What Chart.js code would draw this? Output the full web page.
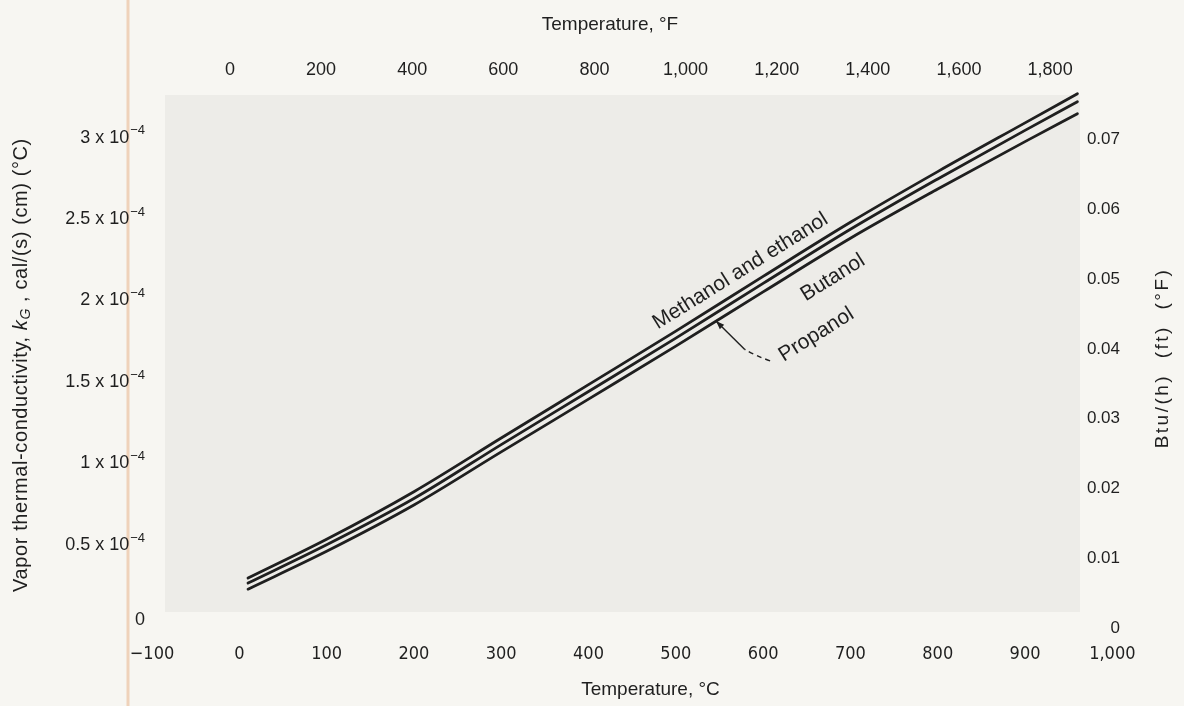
<!DOCTYPE html>
<html>
<head>
<meta charset="utf-8">
<title>Vapor thermal conductivity of alcohols</title>
<script src="https://cdn.jsdelivr.net/npm/chart.js@4/dist/chart.umd.min.js"></script>
<style>
  html, body { margin: 0; padding: 0; background: #f7f6f2; }
</style>
</head>
<body>
<canvas id="kg-chart" width="1184" height="706"></canvas>
<script>
// temperatures along the curves, deg C
var tempC = [10, 100, 200, 300, 400, 500, 600, 700, 800, 900, 960];
// k_G, in units of 1e-4 cal/(s)(cm)(deg C)
var methanolEthanol = [0.297, 0.535, 0.827, 1.156, 1.484, 1.812, 2.148, 2.480, 2.791, 3.090, 3.269];
var propanol        = [0.266, 0.501, 0.785, 1.116, 1.442, 1.769, 2.105, 2.437, 2.746, 3.044, 3.220];
var butanol         = [0.229, 0.461, 0.745, 1.071, 1.395, 1.720, 2.053, 2.382, 2.684, 2.975, 3.146];

// tick values
var ticksC = [-100, 0, 100, 200, 300, 400, 500, 600, 700, 800, 900, 1000];
var ticksF = [0, 200, 400, 600, 800, 1000, 1200, 1400, 1600, 1800];
var ticksKg = [0, 0.5, 1, 1.5, 2, 2.5, 3];
var ticksBtu = [0, 0.01, 0.02, 0.03, 0.04, 0.05, 0.06, 0.07];

// curve names written on the plot (t in deg C, k in 1e-4 units)
var curveLabels = [
  { text: 'Methanol and ethanol', t: 574, k: 2.18 },
  { text: 'Butanol', t: 680, k: 2.14 },
  { text: 'Propanol', t: 661, k: 1.79 }
];

var ink = '#1f1f1f';
var fontMain = "'Liberation Sans', Arial, sans-serif";
var fontNarrow = "'Liberation Sans Narrow', 'DejaVu Sans Condensed', 'Liberation Sans', sans-serif";

function pts(ys) {
  return tempC.map(function (t, i) { return { x: t, y: ys[i] }; });
}

function fixTicks(list) {
  return function (axis) {
    axis.ticks = list.map(function (v) { return { value: v }; });
  };
}

function withComma(v) {
  return v >= 1000 ? Math.floor(v / 1000) + ',' + String(v % 1000).padStart(3, '0') : String(v);
}

function curve(label, ys) {
  return {
    label: label,
    data: pts(ys),
    borderColor: ink,
    borderWidth: 2.8,
    borderCapStyle: 'round',
    pointRadius: 0,
    fill: false,
    cubicInterpolationMode: 'monotone'
  };
}

// paper tone, the grey printed panel and the page edge
var paperPlugin = {
  id: 'paper',
  beforeDraw: function (chart) {
    var ctx = chart.ctx;
    ctx.save();
    ctx.fillStyle = '#f7f6f2';
    ctx.fillRect(0, 0, chart.width, chart.height);
    ctx.fillStyle = '#edece8';
    ctx.fillRect(165, 95, 915, 517);
    ctx.strokeStyle = '#efd2ba';
    ctx.lineWidth = 3;
    ctx.beginPath();
    ctx.moveTo(128, 0);
    ctx.lineTo(128, chart.height);
    ctx.stroke();
    ctx.restore();
  }
};

function drawVertical(ctx, cx, cy, parts, spacing) {
  ctx.save();
  ctx.translate(cx, cy);
  ctx.rotate(-Math.PI / 2);
  ctx.textBaseline = 'middle';
  ctx.textAlign = 'left';
  ctx.letterSpacing = (spacing || 0) + 'px';
  var total = 0;
  parts.forEach(function (p) { ctx.font = p.f; total += ctx.measureText(p.s).width; });
  var x = -total / 2;
  parts.forEach(function (p) {
    ctx.font = p.f;
    ctx.fillText(p.s, x, p.dy || 0);
    x += ctx.measureText(p.s).width;
  });
  ctx.restore();
}

var notesPlugin = {
  id: 'notes',
  afterDatasetsDraw: function (chart) {
    var ctx = chart.ctx, sx = chart.scales.x, sy = chart.scales.y;
    ctx.save();
    ctx.fillStyle = ink;
    ctx.strokeStyle = ink;

    curveLabels.forEach(function (l) {
      ctx.save();
      ctx.translate(sx.getPixelForValue(l.t), sy.getPixelForValue(l.k));
      ctx.rotate(-32 * Math.PI / 180);
      ctx.font = '21px ' + fontMain;
      ctx.textAlign = 'center';
      ctx.textBaseline = 'middle';
      ctx.fillText(l.text, 0, 0);
      ctx.restore();
    });

    // dashed leader from "Propanol" to its curve
    var p0 = [sx.getPixelForValue(608), sy.getPixelForValue(1.63)];
    var p1 = [sx.getPixelForValue(579), sy.getPixelForValue(1.70)];
    var tip = [sx.getPixelForValue(546), sy.getPixelForValue(1.874)];
    ctx.lineWidth = 1.4;
    ctx.setLineDash([5, 4]);
    ctx.beginPath();
    ctx.moveTo(p0[0], p0[1]);
    ctx.quadraticCurveTo(p1[0] + 10, p1[1] + 6, p1[0], p1[1]);
    ctx.stroke();
    ctx.setLineDash([]);
    ctx.beginPath();
    ctx.moveTo(p1[0], p1[1]);
    ctx.lineTo(tip[0], tip[1]);
    ctx.stroke();
    var ang = Math.atan2(tip[1] - p1[1], tip[0] - p1[0]);
    ctx.beginPath();
    ctx.moveTo(tip[0], tip[1]);
    ctx.lineTo(tip[0] - 9 * Math.cos(ang - 0.35), tip[1] - 9 * Math.sin(ang - 0.35));
    ctx.lineTo(tip[0] - 9 * Math.cos(ang + 0.35), tip[1] - 9 * Math.sin(ang + 0.35));
    ctx.closePath();
    ctx.fill();

    // left tick labels with a real superscript exponent
    ctx.textBaseline = 'middle';
    ticksKg.forEach(function (v) {
      var y = sy.getPixelForValue(v) - (v === 0 ? 6 : 0);
      var right = sy.right - 7;
      if (v === 0) {
        ctx.font = '18px ' + fontMain;
        ctx.textAlign = 'right';
        ctx.fillText('0', right, y);
        return;
      }
      ctx.font = '13px ' + fontMain;
      var ew = ctx.measureText('\u22124').width;
      ctx.textAlign = 'right';
      ctx.fillText('\u22124', right, y - 7);
      ctx.font = '18px ' + fontMain;
      ctx.fillText(v + ' x 10', right - ew - 1, y);
    });

    // titles drawn by hand: top one sits left of centre, side ones read upward
    ctx.font = '19px ' + fontMain;
    ctx.textAlign = 'center';
    ctx.fillText('Temperature, \u00b0F', 610, 25);
    drawVertical(ctx, 21, 365, [
      { s: 'Vapor thermal-conductivity, ', f: '20px ' + fontMain },
      { s: 'k', f: 'italic 20px ' + fontMain },
      { s: 'G', f: 'italic 14px ' + fontMain, dy: 5 },
      { s: ' , cal/(s) (cm) (\u00b0C)', f: '20px ' + fontMain }
    ], 0.6);
    drawVertical(ctx, 1163, 358, [
      { s: 'Btu/(h)  (ft)  (\u00b0F)', f: '19px ' + fontMain }
    ], 2.5);
    ctx.restore();
  }
};

new Chart(document.getElementById('kg-chart'), {
  type: 'line',
  data: {
    datasets: [
      curve('Methanol and ethanol', methanolEthanol),
      curve('Propanol', propanol),
      curve('Butanol', butanol)
    ]
  },
  options: {
    responsive: false,
    animation: false,
    layout: { padding: 0 },
    plugins: { legend: { display: false }, tooltip: { enabled: false } },
    scales: {
      x: {
        type: 'linear', position: 'bottom', min: -100, max: 1042,
        afterBuildTicks: fixTicks(ticksC),
        afterFit: function (s) { s.height = 74; },
        grid: { display: false, drawTicks: false }, border: { display: false },
        ticks: {
          color: ink, padding: 12, maxRotation: 0, autoSkip: false,
          font: { family: fontNarrow, size: 18 },
          callback: function (v) { return v < 0 ? '\u2212' + (-v) : withComma(v); }
        },
        title: {
          display: true, text: 'Temperature, \u00b0C', color: ink,
          font: { family: fontMain, size: 19 }, padding: { top: 0, bottom: 5 }
        }
      },
      x2: {
        type: 'linear', position: 'top', min: -171, max: 2017,
        afterBuildTicks: fixTicks(ticksF),
        afterFit: function (s) { s.height = 88; },
        grid: { display: false, drawTicks: false }, border: { display: false },
        ticks: {
          color: ink, padding: 7, maxRotation: 0, autoSkip: false,
          font: { family: fontMain, size: 18 },
          callback: function (v) { return withComma(v); }
        }
      },
      y: {
        type: 'linear', position: 'left', min: -0.034, max: 3.304,
        afterBuildTicks: fixTicks(ticksKg),
        afterFit: function (s) { s.width = 152; },
        grid: { display: false, drawTicks: false }, border: { display: false },
        ticks: { display: false }
      },
      y2: {
        type: 'linear', position: 'right', min: -0.00057, max: 0.0774,
        afterBuildTicks: fixTicks(ticksBtu),
        afterFit: function (s) { s.width = 35; },
        grid: { display: false, drawTicks: false }, border: { display: false },
        ticks: {
          color: ink, padding: -29, mirror: true, autoSkip: false,
          font: { family: fontMain, size: 17 },
          callback: function (v) { return v === 0 ? '0' : v.toFixed(2); }
        }
      }
    }
  },
  plugins: [paperPlugin, notesPlugin]
});
</script>
</body>
</html>
